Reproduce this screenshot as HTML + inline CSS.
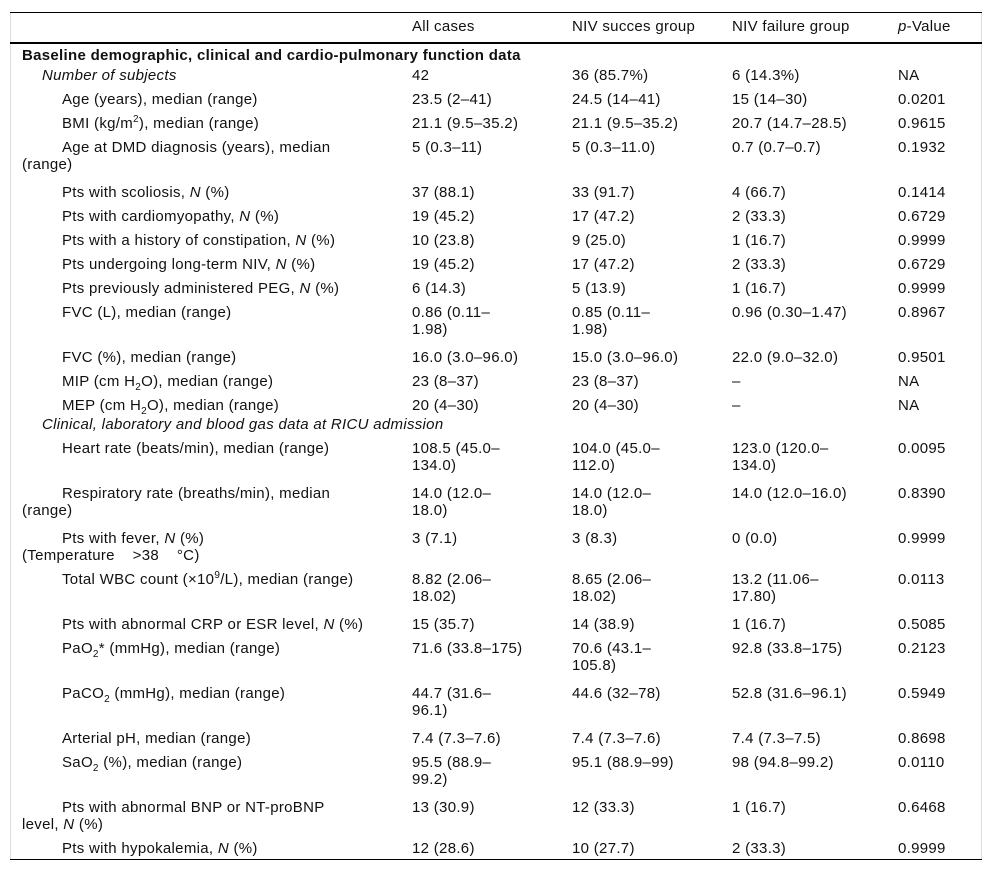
<!DOCTYPE html>
<html><head><meta charset="utf-8"><style>
body{margin:0;background:#fff;}
#t{position:relative;width:992px;height:872px;font-family:"Liberation Sans",Arial,sans-serif;font-size:15px;letter-spacing:0.3px;color:#111;line-height:17px;}
.r{position:absolute;left:0;width:992px;}
.c{position:absolute;white-space:nowrap;top:0;}
.l{left:22px;}
.c1{left:412px}.c2{left:572px}.c3{left:732px}.c4{left:898px}
.hl{position:absolute;left:10px;width:972px;background:#000;}
.vl{position:absolute;top:12px;height:848px;width:1px;background:#ddd;}
sup,sub{font-size:10px;line-height:0;}
</style></head><body>
<div id="t">
<div class="vl" style="left:10px"></div>
<div class="vl" style="left:981px"></div>
<div class="hl" style="top:12px;height:1px"></div>
<div class="hl" style="top:42px;height:2px"></div>
<div class="hl" style="top:859px;height:1px"></div>

<div class="r" style="top:18px">
<div class="c c1">All cases</div>
<div class="c c2">NIV succes group</div>
<div class="c c3">NIV failure group</div>
<div class="c c4"><i>p</i>-Value</div></div>

<div class="r" style="top:47px"><div class="c l" style="font-weight:bold">Baseline demographic, clinical and cardio-pulmonary function data</div></div>

<div class="r" style="top:67px"><div class="c l" style="padding-left:20px"><i>Number of subjects</i></div><div class="c c1">42</div><div class="c c2">36 (85.7%)</div><div class="c c3">6 (14.3%)</div><div class="c c4">NA</div></div>

<div class="r" style="top:91px"><div class="c l" style="padding-left:40px">Age (years), median (range)</div><div class="c c1">23.5 (2–41)</div><div class="c c2">24.5 (14–41)</div><div class="c c3">15 (14–30)</div><div class="c c4">0.0201</div></div>

<div class="r" style="top:115px"><div class="c l" style="padding-left:40px">BMI (kg/m<sup>2</sup>), median (range)</div><div class="c c1">21.1 (9.5–35.2)</div><div class="c c2">21.1 (9.5–35.2)</div><div class="c c3">20.7 (14.7–28.5)</div><div class="c c4">0.9615</div></div>

<div class="r" style="top:139px"><div class="c l"><span style="padding-left:40px">Age at DMD diagnosis (years), median</span><br>(range)</div><div class="c c1">5 (0.3–11)</div><div class="c c2">5 (0.3–11.0)</div><div class="c c3">0.7 (0.7–0.7)</div><div class="c c4">0.1932</div></div>

<div class="r" style="top:184px"><div class="c l" style="padding-left:40px">Pts with scoliosis, <i>N</i> (%)</div><div class="c c1">37 (88.1)</div><div class="c c2">33 (91.7)</div><div class="c c3">4 (66.7)</div><div class="c c4">0.1414</div></div>

<div class="r" style="top:208px"><div class="c l" style="padding-left:40px">Pts with cardiomyopathy, <i>N</i> (%)</div><div class="c c1">19 (45.2)</div><div class="c c2">17 (47.2)</div><div class="c c3">2 (33.3)</div><div class="c c4">0.6729</div></div>

<div class="r" style="top:232px"><div class="c l" style="padding-left:40px">Pts with a history of constipation, <i>N</i> (%)</div><div class="c c1">10 (23.8)</div><div class="c c2">9 (25.0)</div><div class="c c3">1 (16.7)</div><div class="c c4">0.9999</div></div>

<div class="r" style="top:256px"><div class="c l" style="padding-left:40px">Pts undergoing long-term NIV, <i>N</i> (%)</div><div class="c c1">19 (45.2)</div><div class="c c2">17 (47.2)</div><div class="c c3">2 (33.3)</div><div class="c c4">0.6729</div></div>

<div class="r" style="top:280px"><div class="c l" style="padding-left:40px">Pts previously administered PEG, <i>N</i> (%)</div><div class="c c1">6 (14.3)</div><div class="c c2">5 (13.9)</div><div class="c c3">1 (16.7)</div><div class="c c4">0.9999</div></div>

<div class="r" style="top:304px"><div class="c l" style="padding-left:40px">FVC (L), median (range)</div><div class="c c1">0.86 (0.11–<br>1.98)</div><div class="c c2">0.85 (0.11–<br>1.98)</div><div class="c c3">0.96 (0.30–1.47)</div><div class="c c4">0.8967</div></div>

<div class="r" style="top:349px"><div class="c l" style="padding-left:40px">FVC (%), median (range)</div><div class="c c1">16.0 (3.0–96.0)</div><div class="c c2">15.0 (3.0–96.0)</div><div class="c c3">22.0 (9.0–32.0)</div><div class="c c4">0.9501</div></div>

<div class="r" style="top:373px"><div class="c l" style="padding-left:40px">MIP (cm H<sub>2</sub>O), median (range)</div><div class="c c1">23 (8–37)</div><div class="c c2">23 (8–37)</div><div class="c c3">–</div><div class="c c4">NA</div></div>

<div class="r" style="top:397px"><div class="c l" style="padding-left:40px">MEP (cm H<sub>2</sub>O), median (range)</div><div class="c c1">20 (4–30)</div><div class="c c2">20 (4–30)</div><div class="c c3">–</div><div class="c c4">NA</div></div>

<div class="r" style="top:416px"><div class="c l" style="padding-left:20px"><i>Clinical, laboratory and blood gas data at RICU admission</i></div></div>

<div class="r" style="top:440px"><div class="c l" style="padding-left:40px">Heart rate (beats/min), median (range)</div><div class="c c1">108.5 (45.0–<br>134.0)</div><div class="c c2">104.0 (45.0–<br>112.0)</div><div class="c c3">123.0 (120.0–<br>134.0)</div><div class="c c4">0.0095</div></div>

<div class="r" style="top:485px"><div class="c l"><span style="padding-left:40px">Respiratory rate (breaths/min), median</span><br>(range)</div><div class="c c1">14.0 (12.0–<br>18.0)</div><div class="c c2">14.0 (12.0–<br>18.0)</div><div class="c c3">14.0 (12.0–16.0)</div><div class="c c4">0.8390</div></div>

<div class="r" style="top:530px"><div class="c l"><span style="padding-left:40px">Pts with fever, <i>N</i> (%)</span><br>(Temperature&nbsp;&nbsp;&nbsp;&nbsp;&gt;38&nbsp;&nbsp;&nbsp;&nbsp;°C)</div><div class="c c1">3 (7.1)</div><div class="c c2">3 (8.3)</div><div class="c c3">0 (0.0)</div><div class="c c4">0.9999</div></div>

<div class="r" style="top:571px"><div class="c l" style="padding-left:40px">Total WBC count (×10<sup>9</sup>/L), median (range)</div><div class="c c1">8.82 (2.06–<br>18.02)</div><div class="c c2">8.65 (2.06–<br>18.02)</div><div class="c c3">13.2 (11.06–<br>17.80)</div><div class="c c4">0.0113</div></div>

<div class="r" style="top:616px"><div class="c l" style="padding-left:40px">Pts with abnormal CRP or ESR level, <i>N</i> (%)</div><div class="c c1">15 (35.7)</div><div class="c c2">14 (38.9)</div><div class="c c3">1 (16.7)</div><div class="c c4">0.5085</div></div>

<div class="r" style="top:640px"><div class="c l" style="padding-left:40px">PaO<sub>2</sub>* (mmHg), median (range)</div><div class="c c1">71.6 (33.8–175)</div><div class="c c2">70.6 (43.1–<br>105.8)</div><div class="c c3">92.8 (33.8–175)</div><div class="c c4">0.2123</div></div>

<div class="r" style="top:685px"><div class="c l" style="padding-left:40px">PaCO<sub>2</sub> (mmHg), median (range)</div><div class="c c1">44.7 (31.6–<br>96.1)</div><div class="c c2">44.6 (32–78)</div><div class="c c3">52.8 (31.6–96.1)</div><div class="c c4">0.5949</div></div>

<div class="r" style="top:730px"><div class="c l" style="padding-left:40px">Arterial pH, median (range)</div><div class="c c1">7.4 (7.3–7.6)</div><div class="c c2">7.4 (7.3–7.6)</div><div class="c c3">7.4 (7.3–7.5)</div><div class="c c4">0.8698</div></div>

<div class="r" style="top:754px"><div class="c l" style="padding-left:40px">SaO<sub>2</sub> (%), median (range)</div><div class="c c1">95.5 (88.9–<br>99.2)</div><div class="c c2">95.1 (88.9–99)</div><div class="c c3">98 (94.8–99.2)</div><div class="c c4">0.0110</div></div>

<div class="r" style="top:799px"><div class="c l"><span style="padding-left:40px">Pts with abnormal BNP or NT-proBNP</span><br>level, <i>N</i> (%)</div><div class="c c1">13 (30.9)</div><div class="c c2">12 (33.3)</div><div class="c c3">1 (16.7)</div><div class="c c4">0.6468</div></div>

<div class="r" style="top:840px"><div class="c l" style="padding-left:40px">Pts with hypokalemia, <i>N</i> (%)</div><div class="c c1">12 (28.6)</div><div class="c c2">10 (27.7)</div><div class="c c3">2 (33.3)</div><div class="c c4">0.9999</div></div>
</div>
</body></html>
